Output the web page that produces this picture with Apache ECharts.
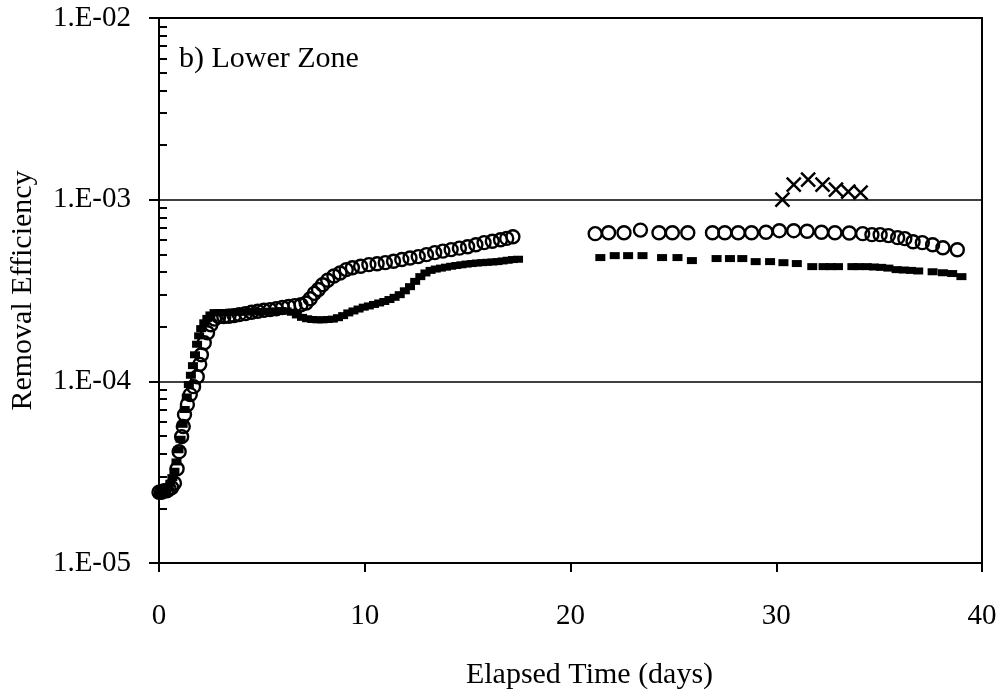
<!DOCTYPE html>
<html>
<head>
<meta charset="utf-8">
<script src="https://cdn.jsdelivr.net/npm/echarts@6/dist/echarts.min.js"></script>
<style>
html,body{margin:0;padding:0;background:#fff;}
#chart{width:1003px;height:698px;}
</style>
</head>
<body>
<div id="chart"></div>
<script>
// ---- data ----
var circleTimes = [
  0.00,0.12,0.25,0.38,0.50,0.62,0.75,0.88,0.98,1.10,1.18,1.24,1.38,1.52,1.68,1.86,1.98,2.06,2.20,2.36,2.52,2.70,2.90,3.15,3.40,3.65,3.90,4.20,4.50,4.80,5.10,5.40,5.70,6.00,6.30,6.60,6.90,7.15,7.35,7.55,7.75,7.95,8.20,8.50,8.80,9.10,9.40,9.80,10.20,10.60,11.00,11.40,11.80,12.20,12.60,13.00,13.40,13.80,14.20,14.60,15.00,15.40,15.80,16.20,16.60,16.90,17.20,
  21.20,21.85,22.60,23.40,24.30,24.95,25.70,26.90,27.50,28.15,28.80,29.50,30.15,30.85,31.50,32.20,32.85,33.55,34.20,34.65,35.05,35.45,35.90,36.25,36.65,37.10,37.60,38.10,38.80
];
var circleValues = [
  2.45e-5,2.45e-5,2.5e-5,2.5e-5,2.55e-5,2.6e-5,2.75e-5,3.3e-5,4.1e-5,4.96e-5,5.64e-5,6.56e-5,7.45e-5,8.45e-5,9.35e-5,1.06e-4,1.24e-4,1.40e-4,1.63e-4,1.85e-4,2.05e-4,2.20e-4,2.27e-4,2.27e-4,2.28e-4,2.30e-4,2.33e-4,2.36e-4,2.40e-4,2.43e-4,2.46e-4,2.48e-4,2.51e-4,2.55e-4,2.58e-4,2.61e-4,2.64e-4,2.70e-4,2.85e-4,3.05e-4,3.20e-4,3.40e-4,3.60e-4,3.80e-4,3.95e-4,4.12e-4,4.22e-4,4.30e-4,4.39e-4,4.44e-4,4.50e-4,4.58e-4,4.68e-4,4.77e-4,4.86e-4,4.98e-4,5.11e-4,5.21e-4,5.31e-4,5.41e-4,5.51e-4,5.65e-4,5.80e-4,5.90e-4,6.02e-4,6.12e-4,6.25e-4,
  6.50e-4,6.58e-4,6.58e-4,6.80e-4,6.58e-4,6.58e-4,6.58e-4,6.58e-4,6.58e-4,6.58e-4,6.58e-4,6.62e-4,6.75e-4,6.75e-4,6.70e-4,6.62e-4,6.58e-4,6.55e-4,6.50e-4,6.42e-4,6.42e-4,6.34e-4,6.18e-4,6.10e-4,5.87e-4,5.80e-4,5.65e-4,5.44e-4,5.30e-4
];
var squareTimes = [
  0.00,0.15,0.30,0.45,0.55,0.65,0.75,0.85,0.95,1.05,1.15,1.25,1.35,1.45,1.55,1.65,1.75,1.85,1.95,2.05,2.20,2.35,2.50,2.70,2.95,3.20,3.45,3.70,3.95,4.20,4.45,4.70,4.95,5.20,5.45,5.70,5.95,6.20,6.45,6.70,6.95,7.20,7.45,7.70,7.95,8.20,8.45,8.70,8.95,9.20,9.45,9.70,9.95,10.20,10.45,10.70,10.95,11.20,11.45,11.70,11.95,12.20,12.45,12.70,12.95,13.20,13.45,13.70,13.95,14.20,14.45,14.70,14.95,15.20,15.45,15.70,15.95,16.20,16.45,16.70,16.95,17.20,17.45,
  21.45,22.15,22.80,23.50,24.45,25.20,25.90,27.10,27.75,28.35,29.00,29.70,30.35,31.00,31.75,32.30,32.65,33.00,33.70,34.00,34.40,34.75,35.10,35.45,35.85,36.20,36.55,36.90,37.60,38.10,38.55,39.00
];
var squareValues = [
  2.4e-5,2.45e-5,2.5e-5,2.6e-5,2.75e-5,2.95e-5,3.2e-5,3.6e-5,4.2e-5,4.8e-5,5.8e-5,7.0e-5,8.2e-5,9.6e-5,1.08e-4,1.22e-4,1.40e-4,1.60e-4,1.78e-4,1.95e-4,2.10e-4,2.22e-4,2.32e-4,2.39e-4,2.39e-4,2.39e-4,2.40e-4,2.40e-4,2.40e-4,2.41e-4,2.41e-4,2.42e-4,2.42e-4,2.43e-4,2.43e-4,2.44e-4,2.45e-4,2.44e-4,2.40e-4,2.32e-4,2.25e-4,2.21e-4,2.19e-4,2.18e-4,2.18e-4,2.19e-4,2.20e-4,2.24e-4,2.30e-4,2.38e-4,2.44e-4,2.50e-4,2.56e-4,2.60e-4,2.65e-4,2.70e-4,2.75e-4,2.82e-4,2.90e-4,3.00e-4,3.15e-4,3.32e-4,3.55e-4,3.77e-4,3.95e-4,4.08e-4,4.15e-4,4.20e-4,4.25e-4,4.30e-4,4.34e-4,4.38e-4,4.42e-4,4.45e-4,4.48e-4,4.50e-4,4.52e-4,4.54e-4,4.56e-4,4.60e-4,4.64e-4,4.68e-4,4.70e-4,
  4.80e-4,4.92e-4,4.92e-4,4.92e-4,4.80e-4,4.80e-4,4.62e-4,4.74e-4,4.74e-4,4.74e-4,4.56e-4,4.56e-4,4.50e-4,4.45e-4,4.28e-4,4.28e-4,4.28e-4,4.28e-4,4.28e-4,4.28e-4,4.28e-4,4.26e-4,4.24e-4,4.20e-4,4.12e-4,4.10e-4,4.08e-4,4.05e-4,4.01e-4,3.96e-4,3.92e-4,3.77e-4
];
var crossTimes = [30.30,30.85,31.55,32.25,32.90,33.50,34.10];
var crossValues = [1.0e-3,1.21e-3,1.29e-3,1.21e-3,1.135e-3,1.107e-3,1.093e-3];

var xTicks = [0, 10, 20, 30, 40];
var yTickLabels = ['1.E-05', '1.E-04', '1.E-03', '1.E-02'];
var yMinorTickValues = [2e-5,3e-5,4e-5,5e-5,6e-5,7e-5,8e-5,9e-5,2e-4,3e-4,4e-4,5e-4,6e-4,7e-4,8e-4,9e-4,2e-3,3e-3,4e-3,5e-3,6e-3,7e-3,8e-3,9e-3];
var panelLabel = 'b) Lower Zone';
var xTitle = 'Elapsed Time (days)';
var yTitle = 'Removal Efficiency';

function zip(a, b) { return a.map(function (t, i) { return [t, b[i]]; }); }

var FONT = 'Liberation Serif';
var chart = echarts.init(document.getElementById('chart'), null, {renderer: 'canvas'});
chart.setOption({
  animation: false,
  backgroundColor: '#fff',
  title: {
    text: panelLabel, left: 179, top: 44, padding: 0,
    textStyle: {fontFamily: FONT, fontSize: 30, fontWeight: 'normal', color: '#000'}
  },
  grid: {left: 158, right: 21, top: 18, bottom: 135, show: true, borderColor: '#000', borderWidth: 2, backgroundColor: 'transparent'},
  xAxis: {
    type: 'value', min: xTicks[0], max: xTicks[xTicks.length - 1], interval: 10,
    name: xTitle, nameLocation: 'middle', nameGap: 97,
    nameTextStyle: {fontFamily: FONT, fontSize: 30, color: '#000', padding: [0, 0, 0, 38]},
    axisLine: {show: true, lineStyle: {color: '#000', width: 2}},
    axisTick: {show: true, inside: false, length: 9, lineStyle: {color: '#000', width: 2}},
    axisLabel: {fontFamily: FONT, fontSize: 29, color: '#000', margin: 39},
    splitLine: {show: false}
  },
  yAxis: [{
    type: 'log', logBase: 10, min: 1e-5, max: 1e-2, position: 'left',
    name: yTitle, nameLocation: 'middle', nameGap: 121, nameRotate: 90,
    nameTextStyle: {fontFamily: FONT, fontSize: 30, color: '#000'},
    axisLine: {show: true, lineStyle: {color: '#000', width: 2}},
    axisTick: {show: true, inside: false, length: 10, lineStyle: {color: '#000', width: 2}},
    axisLabel: {
      fontFamily: FONT, fontSize: 29, color: '#000', margin: 28,
      formatter: function (v) {
        var e = Math.round(Math.log10(v));
        return yTickLabels[e + 5];
      }
    },
    splitLine: {show: true, lineStyle: {color: '#000', width: 1.6}},
    minorTick: {show: false}
  }, {
    type: 'log', logBase: 10, min: 1e-5, max: 1e-2, position: 'left',
    axisLine: {show: false},
    axisTick: {show: true, inside: true, length: 8, customValues: yMinorTickValues, lineStyle: {color: '#000', width: 2}},
    axisLabel: {show: false},
    splitLine: {show: false}
  }],
  series: [{
    type: 'scatter', name: 'circles', data: zip(circleTimes, circleValues),
    symbol: 'circle', symbolSize: 13,
    itemStyle: {color: 'rgba(0,0,0,0)', borderColor: '#000', borderWidth: 2.4, opacity: 1},
    emphasis: {disabled: true}
  }, {
    type: 'scatter', name: 'squares', data: zip(squareTimes, squareValues),
    symbol: 'rect', symbolSize: [10, 7],
    itemStyle: {color: '#000', opacity: 1},
    emphasis: {disabled: true}
  }, {
    type: 'scatter', name: 'crosses', data: zip(crossTimes, crossValues),
    symbol: 'path://M0,0L10,10M0,10L10,0', symbolSize: 14, symbolKeepAspect: true,
    itemStyle: {color: 'none', borderColor: '#000', borderWidth: 2.5, opacity: 1},
    emphasis: {disabled: true}
  }]
});
</script>
</body>
</html>
